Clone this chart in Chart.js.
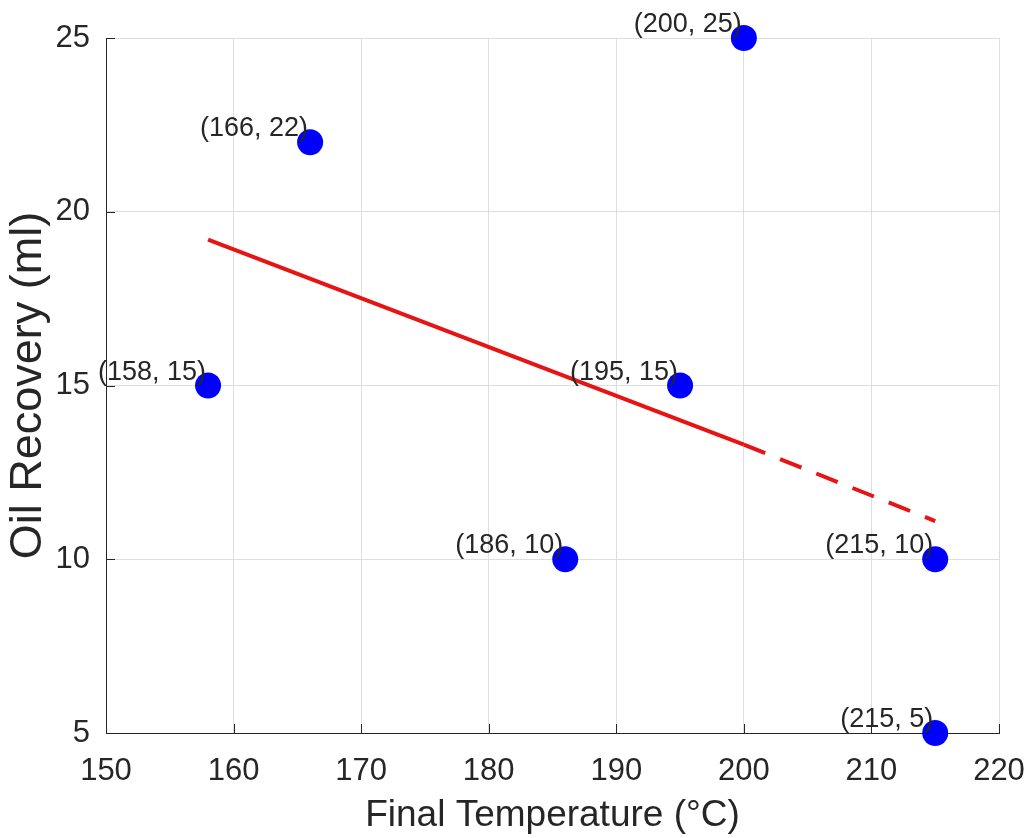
<!DOCTYPE html>
<html>
<head>
<meta charset="utf-8">
<title>Oil Recovery vs Final Temperature</title>
<script src="https://cdn.jsdelivr.net/npm/chart.js@4"></script>
<style>
    html, body { margin: 0; padding: 0; background: #fff; }
    #wrap { width: 1030px; height: 838px; }
</style>
</head>
<body>
<div id="wrap"><canvas id="oilChart" width="1030" height="838"></canvas></div>
<script>
// measured points
const tempC = [158, 166, 186, 195, 200, 215, 215];
const oilMl = [15, 22, 10, 15, 25, 10, 5];

// trend line (solid part, then dashed extension)
const fitSolidX = [158, 200];
const fitSolidY = [19.2, 13.3];
const fitDashX = [200, 215];
const fitDashY = [13.3, 11.1];

const xTicks = [150, 160, 170, 180, 190, 200, 210, 220];
const yTicks = [5, 10, 15, 20, 25];

const axisColor = '#262626';
const gridColor = '#dedede';
const fontFamily = '"Liberation Sans", Arial, Helvetica, sans-serif';

function toPoints(xs, ys) {
    return xs.map((x, i) => ({ x: x, y: ys[i] }));
}

// MATLAB-style ticks pointing into the plot
const inwardTicks = {
    id: 'inwardTicks',
    beforeDatasetsDraw(chart) {
        const ctx = chart.ctx;
        const area = chart.chartArea;
        const xs = chart.scales.x;
        const ys = chart.scales.y;
        const len = 9;
        ctx.save();
        ctx.strokeStyle = axisColor;
        ctx.lineWidth = 1;
        ctx.beginPath();
        xTicks.forEach(v => {
            const px = Math.round(xs.getPixelForValue(v)) + 0.5;
            ctx.moveTo(px, area.bottom);
            ctx.lineTo(px, area.bottom - len);
        });
        yTicks.forEach(v => {
            const py = Math.round(ys.getPixelForValue(v)) + 0.5;
            ctx.moveTo(area.left, py);
            ctx.lineTo(area.left + len, py);
        });
        ctx.stroke();
        ctx.restore();
    }
};

// "(x, y)" text next to every point
const pointLabels = {
    id: 'pointLabels',
    afterDatasetsDraw(chart) {
        const ctx = chart.ctx;
        const xs = chart.scales.x;
        const ys = chart.scales.y;
        ctx.save();
        ctx.font = '27px ' + fontFamily;
        ctx.fillStyle = axisColor;
        ctx.textAlign = 'right';
        ctx.textBaseline = 'alphabetic';
        tempC.forEach((t, i) => {
            const px = xs.getPixelForValue(t);
            const py = ys.getPixelForValue(oilMl[i]);
            ctx.fillText('(' + t + ', ' + oilMl[i] + ')', px - 2, py - 6);
        });
        ctx.restore();
    }
};

const ctx = document.getElementById('oilChart').getContext('2d');

new Chart(ctx, {
    type: 'scatter',
    data: {
        datasets: [
            {
                label: 'Trend',
                type: 'line',
                data: toPoints(fitSolidX, fitSolidY),
                borderColor: 'rgb(230, 20, 20)',
                borderWidth: 4,
                pointRadius: 0,
                fill: false,
                order: 2
            },
            {
                label: 'Trend (extrapolated)',
                type: 'line',
                data: toPoints(fitDashX, fitDashY),
                borderColor: 'rgb(230, 20, 20)',
                borderWidth: 4,
                borderDash: [23, 16],
                pointRadius: 0,
                fill: false,
                order: 2
            },
            {
                label: 'Data',
                data: toPoints(tempC, oilMl),
                backgroundColor: '#0000ff',
                borderWidth: 0,
                pointRadius: 13,
                pointHoverRadius: 13,
                clip: false,
                order: 1
            }
        ]
    },
    options: {
        responsive: false,
        animation: false,
        layout: {
            padding: { left: 0, right: 31, top: 38, bottom: 0 }
        },
        plugins: {
            legend: { display: false },
            tooltip: { enabled: false }
        },
        scales: {
            x: {
                type: 'linear',
                min: 150,
                max: 220,
                afterBuildTicks: scale => {
                    scale.ticks = xTicks.map(v => ({ value: v }));
                },
                afterFit: scale => {
                    scale.height = 105;
                    scale.paddingLeft = 0;
                    scale.paddingRight = 0;
                },
                grid: { color: gridColor, drawTicks: false },
                border: { color: axisColor, width: 1 },
                ticks: {
                    color: axisColor,
                    padding: 20,
                    maxRotation: 0,
                    font: { family: fontFamily, size: 31 }
                },
                title: {
                    display: true,
                    text: 'Final Temperature (°C)',
                    color: axisColor,
                    padding: { top: 0, bottom: 0 },
                    font: { family: fontFamily, size: 37 }
                }
            },
            y: {
                type: 'linear',
                min: 5,
                max: 25,
                afterBuildTicks: scale => {
                    scale.ticks = yTicks.map(v => ({ value: v }));
                },
                afterFit: scale => {
                    scale.width = 106;
                    scale.paddingTop = 0;
                    scale.paddingBottom = 0;
                },
                grid: { color: gridColor, drawTicks: false },
                border: { color: axisColor, width: 1 },
                ticks: {
                    color: axisColor,
                    padding: 16,
                    font: { family: fontFamily, size: 31 }
                },
                title: {
                    display: true,
                    text: 'Oil Recovery (ml)',
                    color: axisColor,
                    padding: { top: 2, bottom: 0 },
                    font: { family: fontFamily, size: 45 }
                }
            }
        }
    },
    plugins: [inwardTicks, pointLabels]
});
</script>
</body>
</html>
